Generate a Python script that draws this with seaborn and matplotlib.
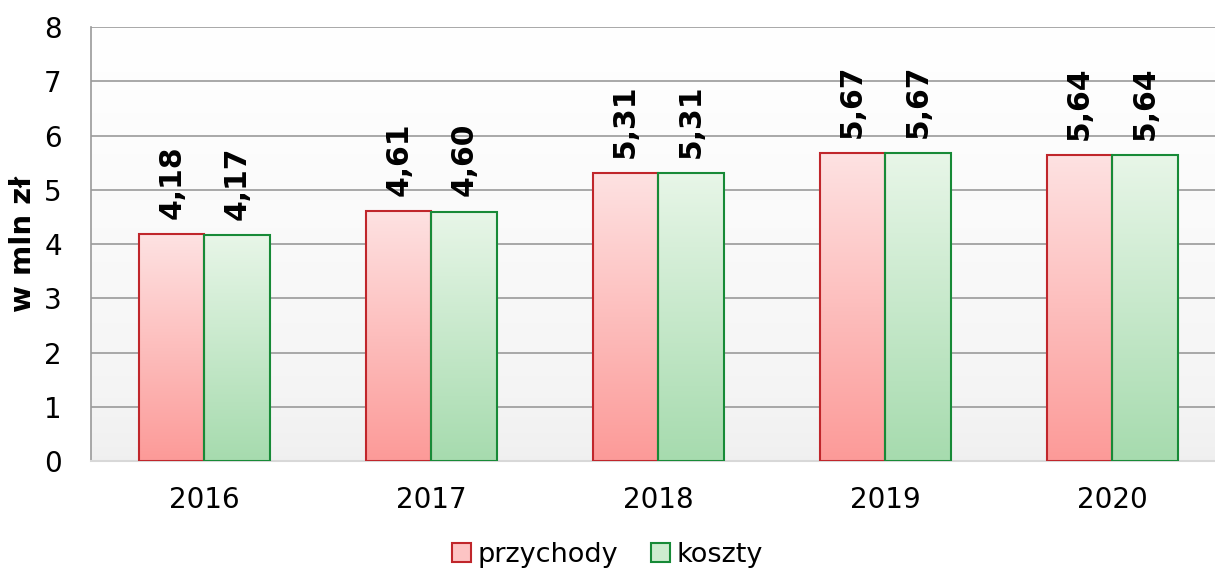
import numpy as np
import pandas as pd
import seaborn as sns
import matplotlib.pyplot as plt
from matplotlib.colors import LinearSegmentedColormap
from matplotlib.patches import Patch

# dane z wykresu
lata = ['2016', '2017', '2018', '2019', '2020']
przychody = [4.18, 4.61, 5.31, 5.67, 5.64]
koszty = [4.17, 4.60, 5.31, 5.67, 5.64]
serie = ['przychody', 'koszty']
etykiety_y = [0, 1, 2, 3, 4, 5, 6, 7, 8]

df = pd.DataFrame({
    'rok': lata * 2,
    'wartosc': przychody + koszty,
    'seria': ['przychody'] * len(lata) + ['koszty'] * len(lata),
})

sns.set_style('white')
plt.rcParams['font.family'] = ['DejaVu Sans']
plt.rcParams['text.color'] = 'black'
plt.rcParams['axes.labelcolor'] = 'black'
plt.rcParams['xtick.color'] = 'black'
plt.rcParams['ytick.color'] = 'black'

fig = plt.figure(figsize=(12.15, 5.7), dpi=100)
ax = fig.add_axes([0.0749, 0.191, 0.934, 0.7616])

krawedzie = {'przychody': '#c0262b', 'koszty': '#178a37'}
gradienty = {
    'przychody': LinearSegmentedColormap.from_list('r', ['#fc9a98', '#fee2e2']),
    'koszty': LinearSegmentedColormap.from_list('g', ['#a6dbae', '#e8f6e8']),
}

sns.barplot(data=df, x='rok', y='wartosc', hue='seria', hue_order=serie,
            palette={'przychody': '#fdc4c4', 'koszty': '#cdeccf'},
            width=0.577, gap=0, saturation=1, legend=False, ax=ax)

ax.set_ylim(0, 8)
ax.set_xlim(-0.5, 4.5)

# tło z gradientem
tlo = np.linspace(0, 1, 256).reshape(-1, 1)
ax.imshow(tlo ** 0.6, extent=[0, 1, 0, 1], transform=ax.transAxes, aspect='auto',
          origin='lower', zorder=-2,
          cmap=LinearSegmentedColormap.from_list('t', ['#efefef', '#ffffff']))

# gradient w słupkach
for cont, s in zip(ax.containers, serie):
    for p, v in zip(cont.patches, df.loc[df.seria == s, 'wartosc']):
        x0, w, h = p.get_x(), p.get_width(), p.get_height()
        p.set_facecolor('none')
        p.set_edgecolor(krawedzie[s])
        p.set_linewidth(1.5)
        p.set_zorder(3)
        im = ax.imshow(tlo, extent=[x0, x0 + w, 0, h], aspect='auto',
                       origin='lower', cmap=gradienty[s], zorder=2)
        im.set_clip_path(p)
        ax.annotate(f'{v:.2f}'.replace('.', ','), (x0 + w / 2, h),
                    xytext=(0, 11), textcoords='offset points',
                    rotation=90, ha='center', va='bottom',
                    fontsize=21.5, fontweight='heavy')

ax.set_xlim(-0.5, 4.5)
ax.set_ylim(0, 8)
ax.set_yticks(etykiety_y)
ax.yaxis.grid(True, color='#9a9a9a', linewidth=1.2)
ax.set_axisbelow(True)
for s in ['top', 'right']:
    ax.spines[s].set_visible(False)
ax.spines['left'].set_color('#9a9a9a')
ax.spines['left'].set_linewidth(1.2)
ax.spines['bottom'].set_color('#d8d8d8')
ax.spines['bottom'].set_linewidth(1.5)
ax.tick_params(axis='y', length=9, color='#9a9a9a', width=1.2, labelsize=20, pad=12)
ax.tick_params(axis='x', length=0, labelsize=20, pad=18)
ax.set_xlabel('')
ax.set_ylabel('w mln zł', fontsize=21, fontweight='bold')
ax.yaxis.set_label_coords(-0.048, 0.5)

uchwyty = [Patch(facecolor='#fdc4c4', edgecolor=krawedzie['przychody'], linewidth=1.5),
           Patch(facecolor='#cdeccf', edgecolor=krawedzie['koszty'], linewidth=1.5)]
fig.legend(uchwyty, serie, loc='lower center', bbox_to_anchor=(0.5, -0.04),
           ncol=2, frameon=False, fontsize=19.5, handlelength=0.7,
           handleheight=0.7, handletextpad=0.25, columnspacing=1.2)

fig.savefig('out.png', dpi=100)
